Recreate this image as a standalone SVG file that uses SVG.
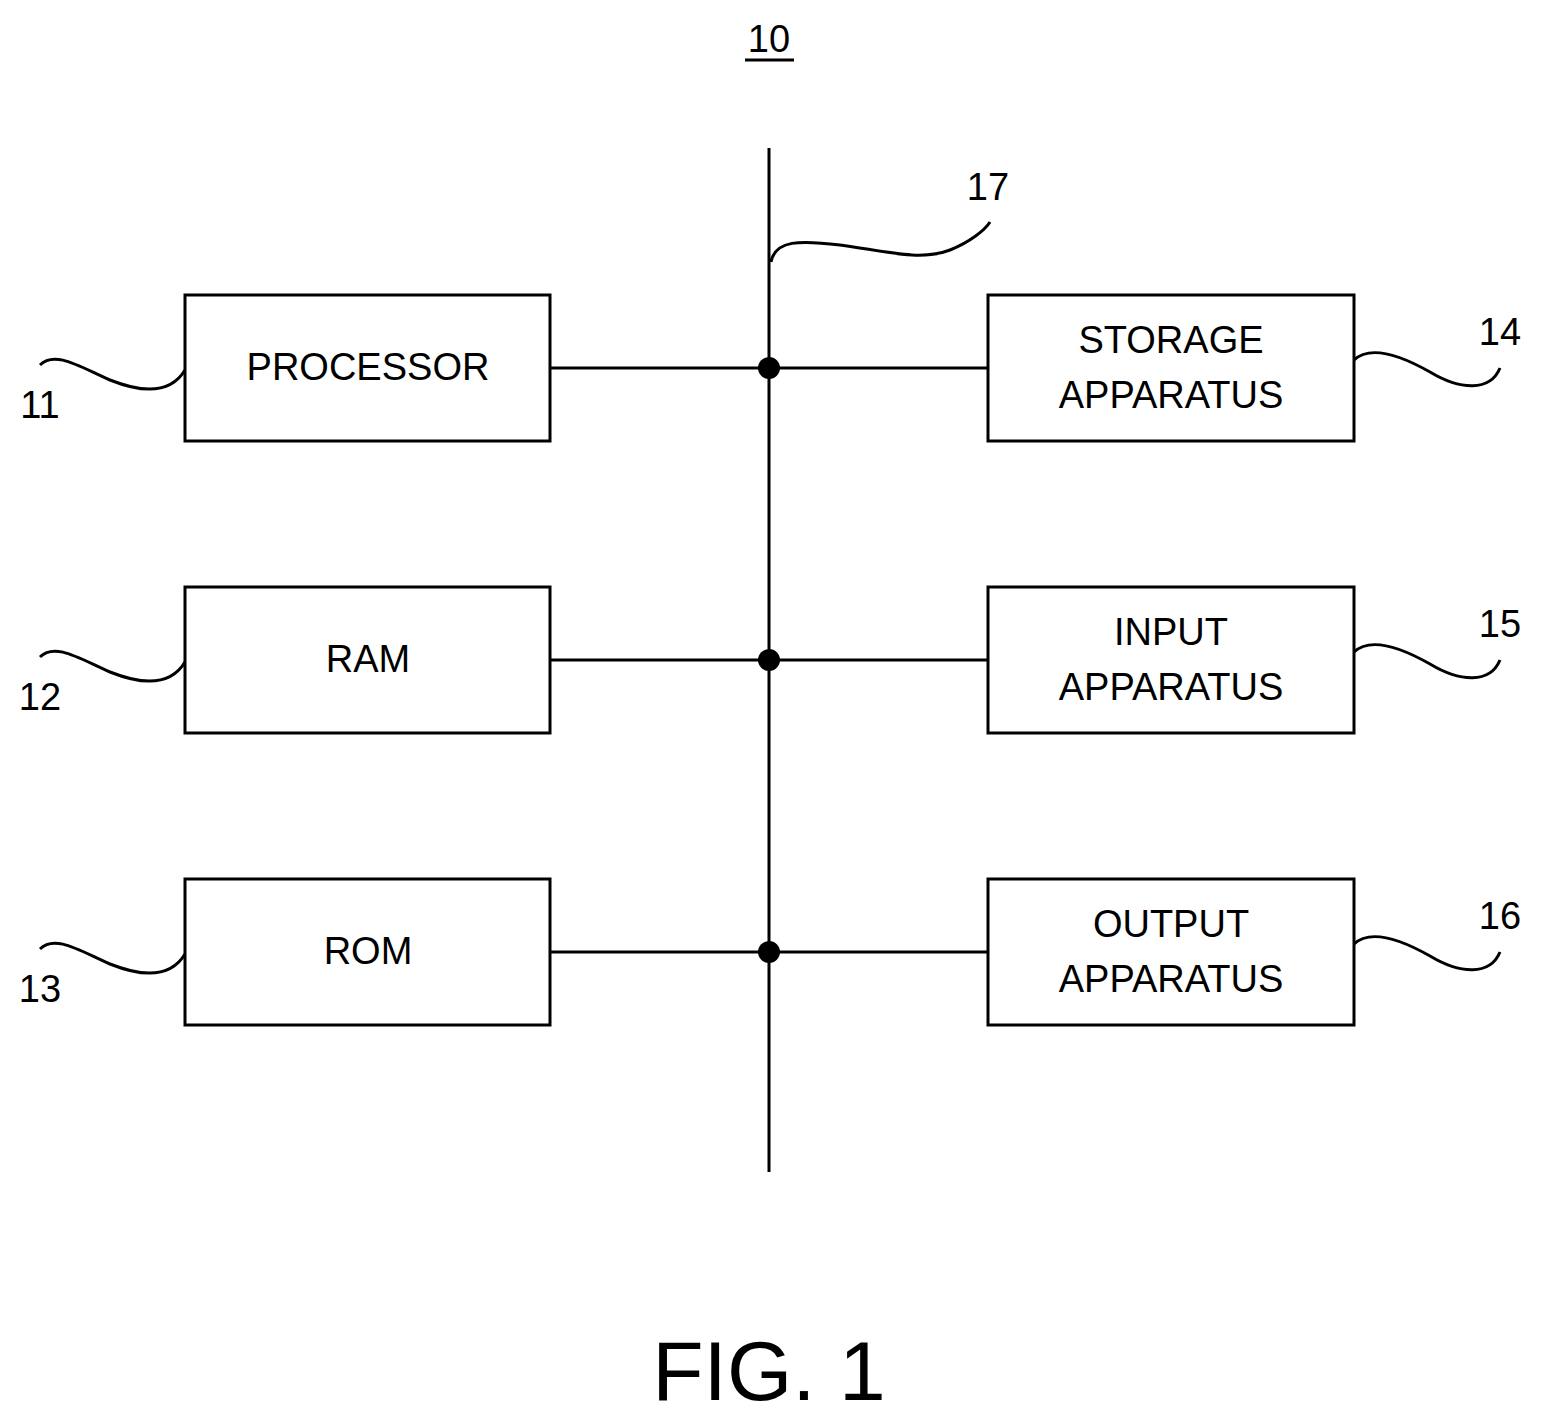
<svg xmlns="http://www.w3.org/2000/svg" width="1544" height="1428" viewBox="0 0 1544 1428">
<style>
.box{fill:#fff;stroke:#000;stroke-width:3}
.ln{fill:none;stroke:#000;stroke-width:3}
text{font-family:"Liberation Sans",Arial,sans-serif;font-size:38px;fill:#000;text-anchor:middle}
</style>
<rect width="1544" height="1428" fill="#fff"/>
<text x="769" y="52">10</text>
<line x1="745" y1="60" x2="794" y2="60" class="ln"/>
<g id="connectors">
<line x1="769" y1="148" x2="769" y2="1172" class="ln"/>
<line x1="550" y1="368" x2="988" y2="368" class="ln"/>
<line x1="550" y1="660" x2="988" y2="660" class="ln"/>
<line x1="550" y1="952" x2="988" y2="952" class="ln"/>
<circle cx="769" cy="368" r="11"/>
<circle cx="769" cy="660" r="11"/>
<circle cx="769" cy="952" r="11"/>
<path class="ln" d="M771,262 C775,240 800,240 840,245 C880,250 920,262 950,250 C970,242 985,230 990,222"/>
<text x="988" y="200">17</text>
</g>
<g id="n11"><rect class="box" x="185" y="295" width="365" height="146"/><text x="368" y="380">PROCESSOR</text>
<path class="ln" d="M185,370 C170,395 140,392 110,380 C80,367 55,350 40,365"/><text x="40" y="418">11</text></g>
<g id="n12"><rect class="box" x="185" y="587" width="365" height="146"/><text x="368" y="672">RAM</text>
<path class="ln" d="M185,662 C170,687 140,684 110,672 C80,659 55,642 40,657"/><text x="40" y="710">12</text></g>
<g id="n13"><rect class="box" x="185" y="879" width="365" height="146"/><text x="368" y="964">ROM</text>
<path class="ln" d="M185,954 C170,979 140,976 110,964 C80,951 55,934 40,949"/><text x="40" y="1002">13</text></g>
<g id="n14"><rect class="box" x="988" y="295" width="366" height="146"/><text x="1171" y="353">STORAGE</text><text x="1171" y="408">APPARATUS</text>
<path class="ln" d="M1354,360 C1370,345 1400,355 1430,372 C1460,390 1490,392 1500,368"/><text x="1500" y="345">14</text></g>
<g id="n15"><rect class="box" x="988" y="587" width="366" height="146"/><text x="1171" y="645">INPUT</text><text x="1171" y="700">APPARATUS</text>
<path class="ln" d="M1354,652 C1370,637 1400,647 1430,664 C1460,682 1490,684 1500,660"/><text x="1500" y="637">15</text></g>
<g id="n16"><rect class="box" x="988" y="879" width="366" height="146"/><text x="1171" y="937">OUTPUT</text><text x="1171" y="992">APPARATUS</text>
<path class="ln" d="M1354,944 C1370,929 1400,939 1430,956 C1460,974 1490,976 1500,952"/><text x="1500" y="929">16</text></g>
<text x="769" y="1400" style="font-size:84px">FIG. 1</text>
</svg>
